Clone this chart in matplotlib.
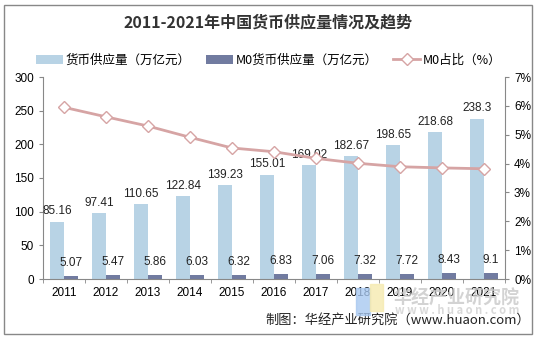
import matplotlib.pyplot as plt
import numpy as np
from matplotlib.patches import Rectangle

plt.rcParams['font.family'] = ['Noto Sans CJK SC', 'DejaVu Sans']

years = ['2011', '2012', '2013', '2014', '2015', '2016', '2017', '2018', '2019', '2020', '2021']
supply = [85.16, 97.41, 110.65, 122.84, 139.23, 155.01, 169.02, 182.67, 198.65, 218.68, 238.3]
m0 = [5.07, 5.47, 5.86, 6.03, 6.32, 6.83, 7.06, 7.32, 7.72, 8.43, 9.1]
m0_pct = [5.95, 5.62, 5.30, 4.91, 4.54, 4.41, 4.18, 4.01, 3.89, 3.85, 3.82]
supply_labels = ['85.16', '97.41', '110.65', '122.84', '139.23', '155.01', '169.02', '182.67', '198.65', '218.68', '238.3']
m0_labels = ['5.07', '5.47', '5.86', '6.03', '6.32', '6.83', '7.06', '7.32', '7.72', '8.43', '9.1']

c_light = '#b8d3e5'
c_dark = '#717ba0'
c_line = '#d6a4a4'

fig = plt.figure(figsize=(5.37, 3.39), dpi=100)
fig.patches.append(Rectangle((4/537, 5/339), 528/537, 329/339, transform=fig.transFigure,
                             fill=False, edgecolor='#888888', linewidth=1))

ax = fig.add_axes([43/537, 1 - 279/339, 462/537, 202/339])
x = np.arange(len(years))
w = 0.333
ax.bar(x - w/2, supply, w, color=c_light, label='货币供应量（万亿元）', zorder=2)
ax.bar(x + w/2, m0, w, color=c_dark, label='M0货币供应量（万亿元）', zorder=2)

for i in range(len(years)):
    ax.annotate(supply_labels[i], (x[i] - w/2, supply[i]), xytext=(0, 3), textcoords='offset points',
                ha='center', va='bottom', fontsize=8.5, family=['Liberation Sans'], color='#222222')
    ax.annotate(m0_labels[i], (x[i] + w/2, m0[i]), xytext=(0, 5), textcoords='offset points',
                ha='center', va='bottom', fontsize=8.5, family=['Liberation Sans'], color='#222222')

ax.set_xlim(-0.5, len(years) - 0.5)
ax.set_ylim(0, 300)
ax.set_yticks(range(0, 301, 50))
ax.set_xticks(x)
ax.set_xticklabels(years)
ax.set_xticks(np.arange(-0.5, len(years), 1), minor=True)
ax.tick_params(axis='x', which='major', length=0, pad=6)
ax.tick_params(axis='x', which='minor', length=3, color='#888888')
ax.tick_params(axis='y', length=3, color='#888888')
for lab in ax.get_xticklabels() + ax.get_yticklabels():
    lab.set_fontfamily(['Liberation Sans'])
    lab.set_fontsize(8.5)
ax.spines['top'].set_visible(False)
ax.spines['right'].set_visible(False)
ax.spines['left'].set_color('#888888')
ax.spines['bottom'].set_color('#888888')

ax2 = ax.twinx()
ax2.plot(x, m0_pct, color=c_line, linewidth=2, marker='D', markersize=6,
         markerfacecolor='white', markeredgecolor=c_line, markeredgewidth=1, label='M0占比（%）', zorder=3)
ax2.set_ylim(0, 7)
ax2.set_yticks(range(0, 8))
ax2.set_yticklabels([f'{v}%' for v in range(0, 8)])
ax2.tick_params(axis='y', length=3, color='#888888')
for lab in ax2.get_yticklabels():
    lab.set_fontfamily(['Liberation Sans'])
    lab.set_fontsize(8.5)
ax2.spines['top'].set_visible(False)
ax2.spines['left'].set_visible(False)
ax2.spines['bottom'].set_visible(False)
ax2.spines['right'].set_color('#888888')

fig.text(0.5, 1 - 22/339, '2011-2021年中国货币供应量情况及趋势', ha='center', va='center',
         fontsize=11.5, fontweight='bold', color='#333333')

h1, l1 = ax.get_legend_handles_labels()
h2, l2 = ax2.get_legend_handles_labels()
fig.legend(h1 + h2, l1 + l2, loc='center', bbox_to_anchor=(0.5, 1 - 60/339), ncol=3,
           frameon=False, fontsize=9, handlelength=2.2, handletextpad=0.2, columnspacing=1.2)

# watermark
fig.patches.append(Rectangle((356/537, 1 - 315/339), 14/537, 27/339, transform=fig.transFigure,
                             color='#a8c8f0', alpha=0.8, zorder=5))
fig.patches.append(Rectangle((370/537, 1 - 311/339), 13/537, 27/339, transform=fig.transFigure,
                             color='#f5eab0', alpha=0.8, zorder=5))
fig.text(393/537, 1 - 298/339, '华经产业研究院', fontsize=13, fontweight='bold',
         color='#c8c8c8', alpha=0.8, va='center', ha='left')
fig.text(395/537, 1 - 311/339, 'w w w . h u a o n . c o m', fontsize=8, fontweight='bold',
         color='#d0d0d0', alpha=0.8, va='center', ha='left')

fig.text(530/537, 1 - 320/339, '制图：华经产业研究院（www.huaon.com）', ha='right', va='center',
         fontsize=9.5, color='#222222')

fig.savefig('out.png', dpi=100)
